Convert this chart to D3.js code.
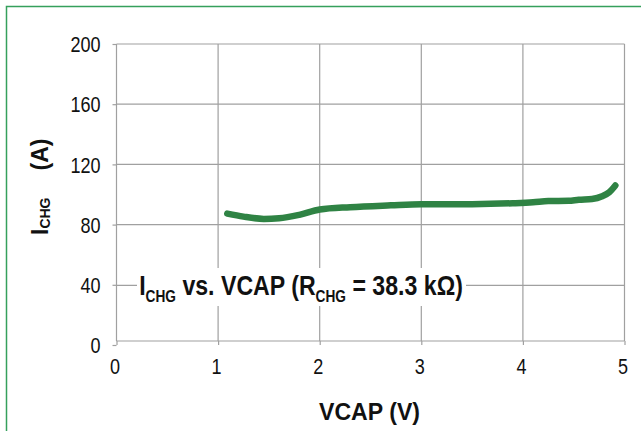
<!DOCTYPE html>
<html>
<head>
<meta charset="utf-8">
<script src="https://cdn.jsdelivr.net/npm/d3@7"></script>
<style>
  html, body { margin: 0; padding: 0; background: #fff; }
  svg { display: block; }
  text { font-family: "Liberation Sans", Arial, sans-serif; fill: #111; }
</style>
</head>
<body>
<svg id="chart" width="641" height="431"></svg>
<script>
// ---- data ----
const vcap = [1.09, 1.25, 1.45, 1.6, 1.8, 2.0, 2.3, 2.7, 3.0, 3.5, 3.9, 4.1, 4.25, 4.45, 4.55, 4.68, 4.78, 4.85, 4.91];
const ichg = [87.3, 85.3, 83.8, 84.2, 86.5, 90.0, 91.6, 92.8, 93.5, 93.6, 94.2, 94.8, 95.6, 95.8, 96.5, 97.0, 98.8, 101.5, 106.0];
const xTicks = [0, 1, 2, 3, 4, 5];
const yTicks = [0, 40, 80, 120, 160, 200];
const xTitle = "VCAP (V)";
const yTitleMain = "I", yTitleSub = "CHG", yTitleUnit = "(A)";
const noteParts = [["I", false], ["CHG", true], [" vs. VCAP (R", false], ["CHG", true], [" = 38.3 kΩ)", false]];

// ---- layout ----
const svg = d3.select("#chart");
const x = d3.scaleLinear().domain([0, 5]).range([116.5, 624.5]);
const y = d3.scaleLinear().domain([0, 200]).range([345, 44]);
const axisY = 341;
const gridColor = "#a0a0a0";
const tickScale = 0.84;

// border (green frame top/left)
svg.append("path").attr("d", "M6.5,431 V6.5 H641")
  .attr("fill", "none").attr("stroke", "#35a05c").attr("stroke-width", 1.5);

// vertical grid
svg.append("g").selectAll("line").data(xTicks.slice(1)).join("line")
  .attr("x1", d => x(d)).attr("x2", d => x(d))
  .attr("y1", y(200)).attr("y2", axisY)
  .attr("stroke", gridColor).attr("stroke-width", 1.2);
// horizontal grid
svg.append("g").selectAll("line").data(yTicks.slice(1)).join("line")
  .attr("x1", x(0)).attr("x2", x(5))
  .attr("y1", d => y(d) + (d === 40 ? 0.6 : 0)).attr("y2", d => y(d) + (d === 40 ? 0.6 : 0))
  .attr("stroke", gridColor).attr("stroke-width", 1.2);

// y axis
const yAxis = svg.append("g").attr("transform", `translate(${x(0)},0)`)
  .call(d3.axisLeft(y).tickValues(yTicks).tickFormat(d3.format("d")).tickSize(4).tickPadding(12).tickSizeOuter(0));
yAxis.select(".domain").attr("stroke", gridColor).attr("stroke-width", 1.2)
  .attr("d", `M0,${y(200)}V${axisY}`);
yAxis.selectAll(".tick line").attr("stroke", gridColor).attr("stroke-width", 1.2);
yAxis.selectAll(".tick text").attr("font-size", 21.5).attr("fill", "#111")
  .attr("font-family", "Liberation Sans, Arial, sans-serif")
  .attr("transform", `scale(${tickScale},1)`).attr("x", -16 / tickScale).attr("dy", "0.36em");

// x axis
const xAxis = svg.append("g").attr("transform", `translate(0,${axisY})`)
  .call(d3.axisBottom(x).tickValues(xTicks).tickFormat(d3.format("d")).tickSize(4).tickPadding(14).tickSizeOuter(0));
xAxis.select(".domain").attr("stroke", gridColor).attr("stroke-width", 1.2)
  .attr("d", `M${x(0)},0H${x(5)}`);
xAxis.selectAll(".tick line").attr("stroke", gridColor).attr("stroke-width", 1.2);
xAxis.selectAll(".tick text").attr("font-size", 21.5).attr("fill", "#111")
  .attr("font-family", "Liberation Sans, Arial, sans-serif")
  .attr("transform", `translate(-2,0) scale(${tickScale},1)`).attr("dy", "0.71em");

// annotation with white background
svg.append("rect").attr("x", 137).attr("y", 268).attr("width", 329).attr("height", 38).attr("fill", "#fff");
const noteG = svg.append("g");
const note = noteG.append("text").attr("font-weight", "bold").attr("font-size", 27).attr("text-anchor", "middle");
let prevSub = false;
noteParts.forEach(([t, sub]) => {
  const ts = note.append("tspan").text(t);
  if (sub) ts.attr("font-size", 16).attr("dy", prevSub ? 0 : 7);
  else if (prevSub) ts.attr("dy", -7);
  prevSub = sub;
});
{
  const w = note.node().getComputedTextLength();
  noteG.attr("transform", `translate(301,295) scale(${324 / w},1)`);
}

// series line
const line = d3.line().x((d, i) => x(vcap[i])).y((d, i) => y(ichg[i])).curve(d3.curveMonotoneX);
svg.append("path").datum(ichg).attr("d", line)
  .attr("fill", "none").attr("stroke", "#2f8344").attr("stroke-width", 6.5)
  .attr("stroke-linecap", "round").attr("stroke-linejoin", "round");

// x title
const xt = svg.append("text").attr("font-weight", "bold").attr("font-size", 23.5)
  .attr("text-anchor", "middle").text(xTitle);
{
  const w = xt.node().getComputedTextLength();
  xt.attr("transform", `translate(369.5,420) scale(${101 / w},1)`);
}

// y title
const yt = svg.append("text").attr("font-weight", "bold").attr("font-size", 23)
  .attr("transform", "translate(48,235) rotate(-90)");
yt.append("tspan").text(yTitleMain);
yt.append("tspan").text(yTitleSub).attr("font-size", 14).attr("dy", 2);
yt.append("tspan").text(yTitleUnit).attr("dx", 27).attr("dy", -2);
</script>
</body>
</html>
